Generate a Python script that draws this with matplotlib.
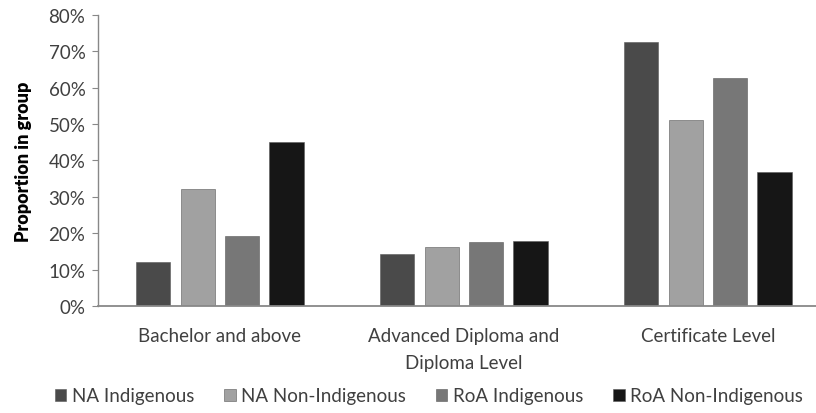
import numpy as np
import matplotlib
matplotlib.use("Agg")
import matplotlib.pyplot as plt
from matplotlib.ticker import PercentFormatter

categories = ["Bachelor and above", "Advanced Diploma and\nDiploma Level", "Certificate Level"]
series_names = ["NA Indigenous", "NA Non-Indigenous", "RoA Indigenous", "RoA Non-Indigenous"]
na_indigenous = [12.0, 14.4, 72.6]
na_non_indigenous = [32.2, 16.3, 51.1]
roa_indigenous = [19.1, 17.5, 62.8]
roa_non_indigenous = [45.2, 17.8, 36.7]

colors = ["#4a4a4a", "#a1a1a1", "#777777", "#161616"]
text_grey = "#404040"

plt.rcParams["font.family"] = ["Lato", "DejaVu Sans"]

fig = plt.figure(figsize=(8.16, 4.14), dpi=100)
ax = fig.add_axes([0.12, 0.2585, 0.897, 0.703])

x = np.arange(len(categories))
width = 0.14
step = 0.182
values = [na_indigenous, na_non_indigenous, roa_indigenous, roa_non_indigenous]
for i, (name, vals) in enumerate(zip(series_names, values)):
    offset = (i - 1.5) * step
    ax.bar(x + offset, vals, width, color=colors[i], label=name,
           edgecolor="#5a5a5a", linewidth=0.4)

ax.set_xlim(-0.5, 2.5)
ax.set_ylim(0, 80)
ax.set_yticks(np.arange(0, 81, 10))
ax.yaxis.set_major_formatter(PercentFormatter(decimals=0))
ax.set_xticks(x)
ax.set_xticklabels(categories, fontsize=13.5, color=text_grey, linespacing=1.75)
ax.tick_params(axis="x", length=0, pad=15)
ax.tick_params(axis="y", labelsize=13.5, labelcolor=text_grey, length=4,
               color="#888888", pad=5)

for side in ["top", "right"]:
    ax.spines[side].set_visible(False)
ax.spines["left"].set_color("#888888")
ax.spines["bottom"].set_color("#888888")
ax.spines["left"].set_linewidth(1)
ax.spines["bottom"].set_linewidth(1.3)

ax.set_ylabel("Proportion in group", fontsize=13, fontweight="heavy", labelpad=12)

fig.legend(loc="lower center", bbox_to_anchor=(0.526, -0.02), ncol=4, frameon=False,
           fontsize=13.5, handlelength=0.6, handleheight=0.6, handletextpad=0.3,
           columnspacing=1.6, labelcolor=text_grey)

fig.savefig("out.png", dpi=100)
